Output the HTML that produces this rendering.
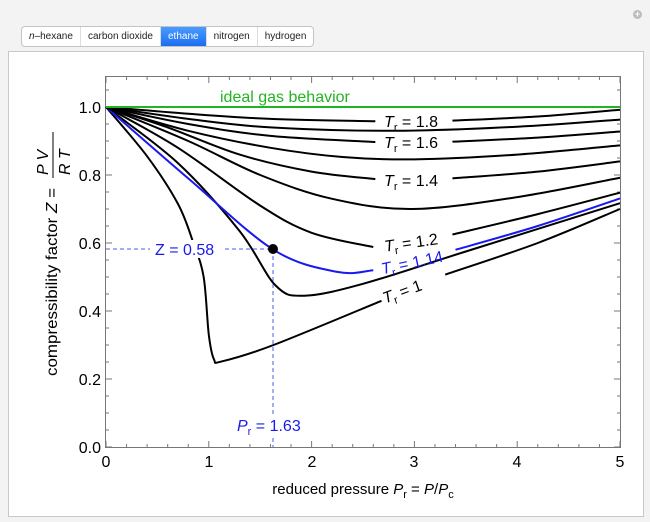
<!DOCTYPE html>
<html><head><meta charset="utf-8"><style>
body{margin:0;width:650px;height:522px;background:#f3f3f3;font-family:"Liberation Sans",sans-serif;position:relative;overflow:hidden}
.panel{position:absolute;left:8px;top:51px;width:634px;height:464px;background:#fff;border:1px solid #c8c8c8}
.tabs{position:absolute;left:21px;top:26px;height:19px;border:1px solid #c4c4c4;border-radius:4px;background:#fff;display:flex;font-size:10px;overflow:hidden}
.tabs div{padding:0 7px;line-height:19px;color:#222;border-right:1px solid #ddd}
.tabs .sel{background:linear-gradient(#4a9bff,#1a6ff0);color:#fff}
.plus{position:absolute;left:633px;top:10px;width:9px;height:9px;border-radius:50%;background:#bdbdbd;color:#fff;font-size:9px;line-height:9px;text-align:center;font-weight:bold}
</style></head><body>
<div class="plus">+</div>
<div class="tabs"><div><i>n</i>–hexane</div><div>carbon dioxide</div><div class="sel">ethane</div><div>nitrogen</div><div style="border:none">hydrogen</div></div>
<div class="panel"></div>
<svg id="s" width="650" height="522" style="position:absolute;left:0;top:0" font-family="Liberation Sans, sans-serif">
<rect x="105.5" y="76.5" width="515" height="371" fill="none" stroke="#777" stroke-width="1"/>
<g id="ticks" stroke="#777" stroke-width="1"></g>
<g font-size="16" fill="#000" text-anchor="end">
<text x="101" y="113">1.0</text><text x="101" y="181">0.8</text><text x="101" y="249">0.6</text><text x="101" y="317">0.4</text><text x="101" y="385">0.2</text><text x="101" y="453">0.0</text>
</g>
<g font-size="16" fill="#000" text-anchor="middle">
<text x="106" y="467">0</text><text x="209" y="467">1</text><text x="312" y="467">2</text><text x="414" y="467">3</text><text x="517" y="467">4</text><text x="620" y="467">5</text>
</g>
<text x="363" y="494" font-size="15" text-anchor="middle">reduced pressure <tspan font-style="italic">P</tspan><tspan font-size="11" dy="4">r</tspan><tspan dy="-4"> = </tspan><tspan font-style="italic">P</tspan>/<tspan font-style="italic">P</tspan><tspan font-size="11" dy="4">c</tspan></text>
<g transform="translate(57,376) rotate(-90)" font-size="16">
<text x="0" y="0" textLength="188" lengthAdjust="spacingAndGlyphs">compressibility factor <tspan font-style="italic">Z</tspan> =</text>
<text x="201" y="-9" font-style="italic">P V</text>
<line x1="198" y1="-4" x2="244" y2="-4" stroke="#000"/>
<text x="201" y="13" font-style="italic">R T</text>
</g>
<g id="curves" fill="none" stroke-width="2"></g>
<line x1="106" y1="107" x2="620" y2="107" stroke="#22b522" stroke-width="2"/>
<text x="220" y="102" font-size="16" fill="#22b522">ideal gas behavior</text>
<line x1="106" y1="249" x2="273" y2="249" stroke="#4a5cf0" stroke-dasharray="4,3"/>
<line x1="273" y1="249" x2="273" y2="447" stroke="#4a5cf0" stroke-dasharray="4,3"/>
<rect x="150" y="240" width="72" height="18" fill="#fff"/>
<text x="155" y="255" font-size="16" fill="#1a1aee">Z = 0.58</text>
<rect x="233" y="416" width="80" height="20" fill="#fff"/>
<text x="237" y="431" font-size="16" fill="#1a1aee"><tspan font-style="italic">P</tspan><tspan font-size="11" dy="4">r</tspan><tspan dy="-4"> = 1.63</tspan></text>
<circle cx="273" cy="249" r="5" fill="#000"/>
<g font-size="16" text-anchor="middle">
<text x="411" y="127"><tspan font-style="italic">T</tspan><tspan font-size="11" dy="4">r</tspan><tspan dy="-4"> = 1.8</tspan></text>
<text x="411" y="148"><tspan font-style="italic">T</tspan><tspan font-size="11" dy="4">r</tspan><tspan dy="-4"> = 1.6</tspan></text>
<text x="411" y="186"><tspan font-style="italic">T</tspan><tspan font-size="11" dy="4">r</tspan><tspan dy="-4"> = 1.4</tspan></text>
<text x="411" y="248" transform="rotate(-8 411 242)"><tspan font-style="italic">T</tspan><tspan font-size="11" dy="4">r</tspan><tspan dy="-4"> = 1.2</tspan></text>
<text x="412" y="268" fill="#1a1aee" transform="rotate(-12 412 262)"><tspan font-style="italic">T</tspan><tspan font-size="11" dy="4">r</tspan><tspan dy="-4"> = 1.14</tspan></text>
<text x="402" y="297" transform="rotate(-20 402 291)"><tspan font-style="italic">T</tspan><tspan font-size="11" dy="4">r</tspan><tspan dy="-4"> = 1</tspan></text>
</g>
</svg>
<script>
var X=function(p){return 106+p*102.8},Y=function(z){return 447-z*340};
var t=document.getElementById('ticks'),h='';
for(var i=0;i<=25;i++){var x=X(i*0.2),L=i%5==0?6:3;h+='<line x1="'+x+'" y1="447" x2="'+x+'" y2="'+(447-L)+'"/><line x1="'+x+'" y1="77" x2="'+x+'" y2="'+(77+L)+'"/>';}
for(var i=0;i<=21;i++){var y=Y(i*0.05),L=i%4==0?6:3;if(y<77)continue;h+='<line x1="106" y1="'+y+'" x2="'+(106+L)+'" y2="'+y+'"/><line x1="620" y1="'+y+'" x2="'+(620-L)+'" y2="'+y+'"/>';}
t.innerHTML=h;
function cr(pts){var P=pts.map(function(a){return[X(a[0]),Y(a[1])]});var d='M'+P[0][0]+','+P[0][1];
for(var i=0;i<P.length-1;i++){var p0=P[i-1]||P[i],p1=P[i],p2=P[i+1],p3=P[i+2]||p2;
d+=' C'+(p1[0]+(p2[0]-p0[0])/6)+','+(p1[1]+(p2[1]-p0[1])/6)+' '+(p2[0]-(p3[0]-p1[0])/6)+','+(p2[1]-(p3[1]-p1[1])/6)+' '+p2[0]+','+p2[1];}return d;}
var C=[
['#000',[[0,1],[0.4,0.855],[0.7,0.715],[0.85,0.6],[0.95,0.5],[1.0,0.33],[1.05,0.258],[1.13,0.252],[1.63,0.30],[2.68,0.43]]],
['#000',[[3.3,0.507],[4.2,0.6],[5,0.70]]],
['#000',[[0,1],[0.7,0.835],[1.3,0.635],[1.65,0.475],[1.93,0.445],[2.5,0.48],[3.5,0.575],[5,0.717]]],
['#1a1aee',[[0,1],[0.8,0.79],[1.63,0.58],[2.25,0.515],[2.6,0.52]]],
['#1a1aee',[[3.4,0.58],[4.2,0.65],[5,0.731]]],
['#000',[[0,1],[0.7,0.88],[1.5,0.71],[2.0,0.63],[2.6,0.588]]],
['#000',[[3.37,0.625],[4.2,0.685],[5,0.748]]],
['#000',[[0,1],[0.8,0.9],[1.5,0.8],[2.2,0.73],[2.98,0.70],[4,0.735],[5,0.792]]],
['#000',[[0,1],[0.6,0.94],[1.3,0.86],[2.0,0.81],[2.62,0.788]]],
['#000',[[3.37,0.79],[4.2,0.81],[5,0.84]]],
['#000',[[0,1],[0.8,0.93],[1.6,0.88],[2.3,0.853],[3,0.846],[4,0.86],[5,0.887]]],
['#000',[[0,1],[0.8,0.95],[1.6,0.915],[2.62,0.897]]],
['#000',[[3.37,0.898],[4.2,0.91],[5,0.928]]],
['#000',[[0,1],[0.8,0.965],[1.6,0.94],[2.8,0.93],[4,0.942],[5,0.963]]],
['#000',[[0,1],[0.8,0.98],[1.6,0.965],[2.62,0.958]]],
['#000',[[3.37,0.96],[4.2,0.972],[5,0.992]]]
];
var g='';C.forEach(function(c){g+='<path d="'+cr(c[1])+'" stroke="'+c[0]+'"/>'});
document.getElementById('curves').innerHTML=g;
</script>
</body></html>
